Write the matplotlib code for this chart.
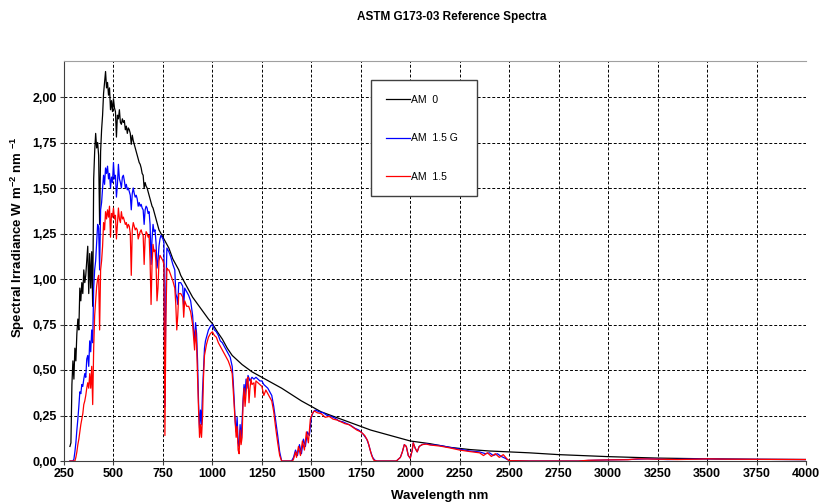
"""
ASTM G173-03 reference spectra (AM 0, AM 1.5 G, AM 1.5 direct).
"""
import matplotlib
matplotlib.use('Agg')
import matplotlib.pyplot as plt
from matplotlib.ticker import FuncFormatter

plt.rcParams['font.family'] = ['Liberation Sans', 'DejaVu Sans']
plt.rcParams['mathtext.default'] = 'regular'

# AM 0 (extraterrestrial)
am0_nm = [280, 285, 290, 295, 300, 305, 310, 315, 320, 325, 330, 335, 340, 345,
          350, 355, 360, 365, 370, 375, 380, 385, 390, 395, 400, 405, 410, 415,
          420, 425, 430, 435, 440, 445, 450, 455, 460, 465, 470, 475, 480, 485,
          490, 495, 500, 505, 510, 515, 520, 525, 530, 535, 540, 545, 550, 555,
          560, 565, 570, 575, 580, 585, 590, 595, 600, 605, 610, 615, 620, 625,
          630, 635, 640, 645, 650, 655, 660, 665, 670, 675, 680, 685, 690, 695,
          700, 705, 710, 715, 720, 725, 730, 735, 740, 745, 750, 760, 770, 780,
          790, 800, 810, 820, 830, 840, 850, 860, 870, 880, 890, 900, 920, 940,
          960, 980, 1000, 1025, 1050, 1075, 1100, 1150, 1200, 1250, 1300, 1350,
          1400, 1450, 1500, 1550, 1600, 1650, 1700, 1750, 1800, 1850, 1900, 1950,
          2000, 2100, 2200, 2300, 2400, 2500, 2600, 2750, 3000, 3250, 3500, 3750,
          4000]
am0_val = [0.08, 0.10, 0.42, 0.55, 0.45, 0.62, 0.55, 0.70, 0.78, 0.72, 0.95, 0.88,
           0.98, 0.92, 1.05, 0.98, 1.02, 1.10, 1.18, 0.92, 1.14, 0.95, 1.15, 0.85,
           1.55, 1.70, 1.80, 1.72, 1.75, 1.68, 1.30, 1.70, 1.82, 1.90, 2.02, 2.08,
           2.14, 2.05, 2.08, 2.01, 2.05, 1.93, 1.98, 1.92, 1.99, 1.94, 1.92, 1.78,
           1.90, 1.88, 1.93, 1.86, 1.85, 1.88, 1.86, 1.87, 1.82, 1.84, 1.80, 1.83,
           1.82, 1.80, 1.74, 1.79, 1.76, 1.74, 1.72, 1.70, 1.68, 1.66, 1.64, 1.63,
           1.61, 1.58, 1.57, 1.50, 1.53, 1.51, 1.50, 1.48, 1.46, 1.44, 1.42, 1.40,
           1.39, 1.37, 1.35, 1.33, 1.31, 1.29, 1.27, 1.26, 1.25, 1.24, 1.23, 1.21,
           1.19, 1.17, 1.14, 1.11, 1.09, 1.07, 1.05, 1.02, 1.00, 0.98, 0.96, 0.94,
           0.92, 0.90, 0.87, 0.84, 0.81, 0.78, 0.755, 0.71, 0.67, 0.62, 0.58, 0.53,
           0.49, 0.46, 0.43, 0.40, 0.365, 0.33, 0.30, 0.27, 0.25, 0.23, 0.21, 0.19,
           0.17, 0.155, 0.14, 0.125, 0.11, 0.095, 0.075, 0.063, 0.055, 0.05, 0.045,
           0.035, 0.024, 0.016, 0.012, 0.009, 0.008]

# AM 1.5 G (global tilt)
g_nm = [280, 295, 300, 305, 310, 315, 320, 325, 330, 335, 340, 345, 350, 355,
        360, 365, 370, 375, 380, 385, 390, 395, 400, 405, 410, 415, 420, 425,
        430, 435, 440, 445, 450, 455, 460, 465, 470, 475, 480, 485, 490, 495,
        500, 505, 510, 515, 520, 525, 530, 535, 540, 545, 550, 555, 560, 565,
        570, 575, 580, 585, 590, 595, 600, 605, 610, 615, 620, 625, 630, 635,
        640, 645, 650, 655, 660, 665, 670, 675, 680, 685, 690, 695, 700, 705,
        710, 715, 720, 725, 730, 735, 740, 745, 750, 755, 760, 765, 770, 775,
        780, 790, 800, 810, 815, 820, 825, 830, 840, 850, 855, 860, 870, 880,
        890, 900, 905, 910, 915, 920, 925, 930, 935, 940, 945, 950, 955, 960,
        965, 970, 980, 990, 1000, 1010, 1020, 1030, 1040, 1050, 1060, 1070,
        1080, 1090, 1100, 1105, 1110, 1115, 1120, 1125, 1130, 1135, 1140, 1145,
        1150, 1155, 1160, 1165, 1170, 1175, 1180, 1190, 1200, 1210, 1220, 1230,
        1240, 1250, 1260, 1270, 1280, 1290, 1300, 1310, 1320, 1330, 1340, 1350,
        1400, 1410, 1420, 1430, 1440, 1450, 1460, 1470, 1480, 1490, 1500, 1510,
        1520, 1540, 1560, 1580, 1600, 1620, 1640, 1660, 1680, 1700, 1720, 1740,
        1760, 1780, 1790, 1800, 1810, 1820, 1830, 1930, 1950, 1960, 1970, 1980,
        1990, 2000, 2010, 2015, 2025, 2035, 2045, 2060, 2080, 2100, 2150, 2200,
        2250, 2300, 2350, 2380, 2400, 2420, 2440, 2460, 2480, 2500, 2600, 2850,
        2900, 3000, 3100, 3200, 3300, 3400, 3500, 3600, 3800, 4000]
g_val = [0, 0, 0.01, 0.05, 0.10, 0.17, 0.23, 0.30, 0.38, 0.37, 0.42, 0.41, 0.45,
         0.48, 0.46, 0.56, 0.58, 0.52, 0.66, 0.60, 0.72, 0.65, 0.95, 1.05, 1.10,
         1.20, 1.30, 1.28, 1.05, 1.38, 1.42, 1.50, 1.57, 1.52, 1.61, 1.58, 1.62,
         1.55, 1.58, 1.50, 1.56, 1.53, 1.64, 1.55, 1.57, 1.45, 1.52, 1.63, 1.55,
         1.53, 1.50, 1.56, 1.57, 1.54, 1.50, 1.52, 1.49, 1.50, 1.48, 1.46, 1.38,
         1.47, 1.50, 1.47, 1.45, 1.46, 1.44, 1.40, 1.42, 1.40, 1.41, 1.39, 1.38,
         1.30, 1.38, 1.40, 1.39, 1.36, 1.37, 1.30, 1.08, 1.22, 1.30, 1.26, 1.27,
         1.20, 1.06, 1.10, 1.18, 1.22, 1.24, 1.23, 1.22, 1.20, 0.30, 0.95, 1.17,
         1.16, 1.15, 1.12, 1.08, 1.05, 0.92, 0.90, 0.86, 0.98, 0.98, 0.96, 0.85,
         0.95, 0.93, 0.91, 0.88, 0.80, 0.72, 0.66, 0.76, 0.70, 0.55, 0.32, 0.18,
         0.28, 0.20, 0.38, 0.50, 0.62, 0.66, 0.68, 0.72, 0.74, 0.75, 0.72, 0.71,
         0.69, 0.66, 0.65, 0.63, 0.61, 0.59, 0.57, 0.52, 0.44, 0.34, 0.22, 0.16,
         0.24, 0.10, 0.08, 0.20, 0.12, 0.22, 0.34, 0.42, 0.36, 0.45, 0.40, 0.47,
         0.44, 0.46, 0.45, 0.46, 0.45, 0.44, 0.44, 0.42, 0.41, 0.40, 0.38, 0.36,
         0.30, 0.22, 0.14, 0.05, 0.0, 0.0, 0.02, 0.06, 0.03, 0.09, 0.04, 0.12,
         0.08, 0.16, 0.14, 0.24, 0.27, 0.28, 0.27, 0.265, 0.25, 0.245, 0.235,
         0.22, 0.215, 0.205, 0.195, 0.18, 0.17, 0.15, 0.12, 0.09, 0.05, 0.02,
         0.005, 0, 0, 0.02, 0.05, 0.09, 0.08, 0.03, 0.015, 0.06, 0.10, 0.07,
         0.05, 0.08, 0.09, 0.095, 0.09, 0.085, 0.075, 0.065, 0.055, 0.05, 0.04,
         0.045, 0.03, 0.04, 0.025, 0.015, 0.002, 0, 0, 0.003, 0.006, 0.008,
         0.012, 0.008, 0.01, 0.012, 0.01, 0.009, 0.008]

# AM 1.5 (direct + circumsolar)
d_nm = [280, 300, 305, 310, 315, 320, 325, 330, 335, 340, 345, 350, 355, 360,
        365, 370, 375, 380, 385, 390, 395, 400, 405, 410, 415, 420, 425, 430,
        435, 440, 445, 450, 455, 460, 465, 470, 475, 480, 485, 490, 495, 500,
        505, 510, 515, 520, 525, 530, 535, 540, 545, 550, 555, 560, 565, 570,
        575, 580, 585, 590, 595, 600, 605, 610, 615, 620, 625, 630, 635, 640,
        645, 650, 655, 660, 665, 670, 675, 680, 685, 690, 695, 700, 705, 710,
        715, 720, 725, 730, 735, 740, 745, 750, 755, 760, 765, 770, 775, 780,
        790, 800, 810, 815, 820, 825, 830, 840, 850, 855, 860, 870, 880, 890,
        900, 905, 910, 915, 920, 925, 930, 935, 940, 945, 950, 955, 960, 965,
        970, 980, 990, 1000, 1010, 1020, 1030, 1040, 1050, 1060, 1070, 1080,
        1090, 1100, 1105, 1110, 1115, 1120, 1125, 1130, 1135, 1140, 1145, 1150,
        1155, 1160, 1165, 1170, 1175, 1180, 1185, 1190, 1195, 1200, 1210, 1215,
        1220, 1230, 1240, 1250, 1260, 1270, 1280, 1290, 1300, 1310, 1320, 1330,
        1340, 1350, 1405, 1410, 1420, 1425, 1435, 1445, 1455, 1465, 1475, 1485,
        1495, 1505, 1515, 1530, 1550, 1570, 1590, 1610, 1630, 1650, 1670, 1690,
        1710, 1730, 1750, 1770, 1785, 1795, 1805, 1815, 1830, 1930, 1950, 1960,
        1970, 1980, 1990, 2000, 2010, 2015, 2025, 2035, 2045, 2060, 2080, 2100,
        2150, 2200, 2250, 2300, 2350, 2370, 2390, 2410, 2430, 2450, 2470, 2490,
        2500, 2600, 2850, 2900, 3000, 3100, 3150, 3250, 3350, 3450, 3500, 3600,
        3800, 4000]
d_val = [0, 0, 0.0, 0.02, 0.05, 0.09, 0.12, 0.16, 0.20, 0.23, 0.26, 0.31, 0.33,
         0.36, 0.40, 0.43, 0.40, 0.48, 0.40, 0.52, 0.31, 0.62, 0.80, 0.88, 0.96,
         1.00, 1.02, 0.72, 1.05, 1.10, 1.18, 1.31, 1.27, 1.37, 1.33, 1.38, 1.34,
         1.40, 1.23, 1.36, 1.34, 1.39, 1.33, 1.35, 1.22, 1.30, 1.39, 1.33, 1.31,
         1.37, 1.33, 1.34, 1.32, 1.30, 1.31, 1.28, 1.30, 1.29, 1.25, 1.02, 1.27,
         1.31, 1.29, 1.27, 1.28, 1.27, 1.22, 1.24, 1.26, 1.27, 1.25, 1.24, 1.08,
         1.22, 1.26, 1.25, 1.23, 1.24, 1.10, 0.86, 1.08, 1.19, 1.15, 1.16, 1.09,
         0.88, 0.95, 1.10, 1.13, 1.12, 1.11, 1.10, 1.08, 0.14, 0.78, 1.06, 1.05,
         1.05, 1.02, 0.99, 0.95, 0.86, 0.72, 0.80, 0.92, 0.92, 0.90, 0.79, 0.88,
         0.85, 0.85, 0.82, 0.75, 0.68, 0.61, 0.72, 0.64, 0.45, 0.28, 0.13, 0.20,
         0.13, 0.24, 0.46, 0.58, 0.61, 0.64, 0.68, 0.70, 0.71, 0.69, 0.68, 0.65,
         0.63, 0.61, 0.59, 0.57, 0.55, 0.52, 0.48, 0.39, 0.30, 0.20, 0.13, 0.19,
         0.06, 0.04, 0.17, 0.09, 0.13, 0.32, 0.40, 0.30, 0.37, 0.45, 0.46, 0.32,
         0.40, 0.45, 0.42, 0.43, 0.35, 0.44, 0.43, 0.42, 0.41, 0.36, 0.39, 0.37,
         0.35, 0.33, 0.27, 0.18, 0.10, 0.03, 0, 0, 0.01, 0.05, 0.02, 0.08, 0.03,
         0.11, 0.06, 0.16, 0.10, 0.23, 0.26, 0.275, 0.265, 0.26, 0.24, 0.245,
         0.23, 0.225, 0.215, 0.205, 0.20, 0.185, 0.17, 0.16, 0.14, 0.11, 0.07,
         0.03, 0.005, 0, 0, 0.02, 0.05, 0.09, 0.08, 0.03, 0.015, 0.06, 0.10,
         0.07, 0.05, 0.08, 0.09, 0.093, 0.088, 0.082, 0.072, 0.06, 0.052, 0.045,
         0.03, 0.045, 0.025, 0.04, 0.02, 0.035, 0.01, 0.002, 0, 0, 0.004, 0.006,
         0.007, 0.012, 0.01, 0.008, 0.01, 0.012, 0.01, 0.009, 0.008]

x_ticks = list(range(250, 4001, 250))
y_ticks = [0, 0.25, 0.5, 0.75, 1.0, 1.25, 1.5, 1.75, 2.0]

fig = plt.figure(figsize=(8.19, 5.04), dpi=100)
ax = fig.add_axes([64/819., 1 - 461/504., 742/819., 400.4/504.])

ax.plot(am0_nm, am0_val, color='black', lw=0.9, label='AM  0')
ax.plot(g_nm, g_val, color='#0000ff', lw=0.9, label='AM  1.5 G')
ax.plot(d_nm, d_val, color='#ff0000', lw=0.9, label='AM  1.5')

ax.set_xlim(250, 4000)
ax.set_ylim(0, 2.2)
ax.set_xticks(x_ticks)
ax.set_yticks(y_ticks)
ax.yaxis.set_major_formatter(FuncFormatter(lambda v, p: ('%.2f' % v).replace('.', ',')))
ax.grid(True, color='black', lw=0.7, linestyle=(0, (3, 2)))
ax.set_axisbelow(True)

ax.spines['right'].set_visible(False)
ax.spines['top'].set_color('#a0a0a0')
ax.spines['left'].set_color('#404040')
ax.spines['bottom'].set_color('#404040')
ax.tick_params(direction='out', length=3, width=0.8, color='#404040',
               labelsize=9, pad=2)
for lab in ax.get_xticklabels() + ax.get_yticklabels():
    lab.set_fontweight('bold')

leg = ax.legend(loc='upper left', bbox_to_anchor=(0.4137, 0.6618, 0.1429, 0.2897),
                mode='expand', fontsize=7.5, frameon=True, fancybox=False,
                borderpad=1.4, labelspacing=2.75, handlelength=2.3,
                handletextpad=0.1, borderaxespad=0)
leg.get_frame().set_edgecolor('#404040')
leg.get_frame().set_linewidth(1.0)
leg.get_frame().set_alpha(1)

fig.text(452/819., 1 - 17/504., 'ASTM G173-03 Reference Spectra', ha='center',
         va='center', fontsize=8.5, fontweight='bold')
fig.text(440/819., 1 - 496/504., 'Wavelength nm', ha='center', va='center',
         fontsize=9.5, fontweight='bold')
fig.text(18/819., 1 - 237/504., r'Spectral Irradiance W m$^{-2}$ nm $^{-1}$',
         ha='center', va='center', rotation=90, fontsize=9.5, fontweight='bold')

fig.savefig('out.png', dpi=100)
